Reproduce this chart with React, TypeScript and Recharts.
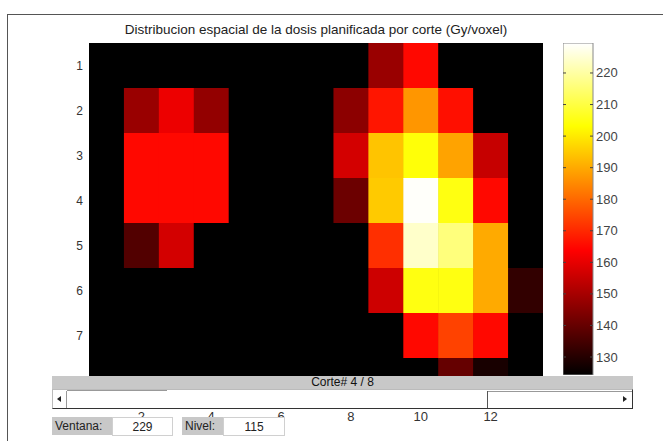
import { Bar, BarChart, CartesianGrid, Scatter, ScatterChart, XAxis, YAxis } from "recharts";

// slice 4 of 8, dose per voxel (Gy); 0 = outside the window
const columns = [1, 2, 3, 4, 5, 6, 7, 8, 9, 10, 11, 12, 13];
const rows = [1, 2, 3, 4, 5, 6, 7, 8];
const row1 = [0, 0, 0, 0, 0, 0, 0, 0, 148, 165, 0, 0, 0];
const row2 = [0, 148, 161, 147, 0, 0, 0, 146, 167, 187, 166, 0, 0];
const row3 = [0, 165, 165, 165, 0, 0, 0, 157, 194, 204, 189, 155, 0];
const row4 = [0, 165, 165, 165, 0, 0, 0, 141, 195, 229, 205, 165, 0];
const row5 = [0, 137, 157, 0, 0, 0, 0, 0, 171, 224, 216, 190, 0];
const row6 = [0, 0, 0, 0, 0, 0, 0, 0, 156, 205, 205, 190, 132];
const row7 = [0, 0, 0, 0, 0, 0, 0, 0, 0, 165, 174, 165, 0];
const row8 = [0, 0, 0, 0, 0, 0, 0, 0, 0, 0, 140, 128, 0];
const doseRows = [row1, row2, row3, row4, row5, row6, row7, row8];

const xTicks = [2, 4, 6, 8, 10, 12];
const yTicks = [1, 2, 3, 4, 5, 6, 7];
const colorbarTicks = [130, 140, 150, 160, 170, 180, 190, 200, 210, 220];
const doseMin = 124.3;
const doseMax = 229.5;

const cells = doseRows.flatMap((vals, r) =>
  vals.map((dose, c) => ({ x: columns[c], y: rows[r], dose }))
);
const colorbarData = [{ name: "dosis", range: [doseMin, doseMax] }];

const FONT = '"Liberation Sans", Arial, sans-serif';
const PLOT_W = 454;
const PLOT_H = 360;
const CELL_W = PLOT_W / columns.length;
const CELL_H = PLOT_H / rows.length;

const clamp = (v: number) => Math.max(0, Math.min(1, v));

// matlab "hot"
function hot(dose: number) {
  const t = clamp((dose - doseMin) / (doseMax - doseMin));
  const r = clamp(t / 0.375);
  const g = clamp((t - 0.375) / 0.375);
  const b = clamp((t - 0.75) / 0.25);
  return `rgb(${Math.round(r * 255)},${Math.round(g * 255)},${Math.round(b * 255)})`;
}

const HeatCell = (props: any) => {
  const { cx, cy, payload } = props;
  return (
    <rect
      x={cx - CELL_W / 2}
      y={cy - CELL_H / 2}
      width={CELL_W + 0.6}
      height={CELL_H + 0.6}
      fill={hot(payload.dose)}
    />
  );
};

const ColorbarTick = (props: any) => {
  const { x, y, payload } = props;
  return (
    <g>
      <line x1={x - 7} x2={x - 4} y1={y} y2={y} stroke="#444" />
      <line x1={x - 34} x2={x - 31} y1={y} y2={y} stroke="#444" />
      <text x={x - 1} y={y} dy={4.5} fontSize={13} fill="#444" fontFamily={FONT}>
        {payload.value}
      </text>
    </g>
  );
};

const grayLabel = {
  position: "absolute" as const,
  top: 417,
  height: 18,
  background: "#c8c8c8",
  fontSize: 12,
  lineHeight: "18px",
  paddingLeft: 3,
  color: "#222",
  boxSizing: "border-box" as const,
};
const editBox = {
  position: "absolute" as const,
  top: 417,
  height: 19,
  background: "#fff",
  border: "1px solid #d0d0d0",
  fontSize: 12,
  lineHeight: "19px",
  textAlign: "center" as const,
  color: "#222",
  boxSizing: "border-box" as const,
};

export default function App() {
  return (
    <div
      style={{
        position: "absolute",
        left: 0,
        top: 0,
        width: 663,
        height: 441,
        overflow: "hidden",
        background: "#fff",
        fontFamily: FONT,
      }}
    >
      <div
        style={{
          position: "absolute",
          left: 7,
          top: 14,
          width: 700,
          height: 500,
          border: "1px solid #555",
        }}
      />
      <div
        style={{
          position: "absolute",
          left: 40,
          top: 22,
          width: 552,
          textAlign: "center",
          fontSize: 13.5,
          color: "#222",
        }}
      >
        Distribucion espacial de la dosis planificada por corte (Gy/voxel)
      </div>

      <div style={{ position: "absolute", left: 0, top: 0 }}>
        <ScatterChart
          width={663}
          height={441}
          margin={{ top: 43, right: 120, left: 59, bottom: 8 }}
        >
          <CartesianGrid fill="#000" horizontal={false} vertical={false} />
          <XAxis
            type="number"
            dataKey="x"
            domain={[0.5, 13.5]}
            allowDataOverflow
            ticks={xTicks}
            height={30}
            tickLine={false}
            axisLine={false}
            tickSize={7}
            tickMargin={2}
            tick={{ fontSize: 13, fill: "#333", fontFamily: FONT }}
          />
          <YAxis
            type="number"
            dataKey="y"
            domain={[0.5, 8.5]}
            allowDataOverflow
            reversed
            ticks={yTicks}
            width={30}
            tickLine={false}
            axisLine={false}
            tickSize={0}
            tickMargin={6}
            tick={{ fontSize: 12, fill: "#333", fontFamily: FONT }}
          />
          <Scatter data={cells} shape={HeatCell} isAnimationActive={false} />
        </ScatterChart>
      </div>

      <div style={{ position: "absolute", left: 563, top: 43 }}>
        <BarChart
          width={70}
          height={332}
          data={colorbarData}
          margin={{ top: 0, right: 0, left: 0, bottom: 0 }}
          barCategoryGap={0}
        >
          <defs>
            <linearGradient id="hotGrad" x1="0" y1="0" x2="0" y2="1">
              <stop offset="0" stopColor="#ffffff" />
              <stop offset="0.25" stopColor="#ffff00" />
              <stop offset="0.625" stopColor="#ff0000" />
              <stop offset="1" stopColor="#000000" />
            </linearGradient>
          </defs>
          <XAxis dataKey="name" hide />
          <YAxis
            orientation="right"
            domain={[doseMin, doseMax]}
            allowDataOverflow
            ticks={colorbarTicks}
            width={40}
            axisLine={false}
            tickLine={false}
            tickSize={0}
            tickMargin={4}
            tick={<ColorbarTick />}
          />
          <Bar
            dataKey="range"
            fill="url(#hotGrad)"
            stroke="#888"
            strokeWidth={1}
            isAnimationActive={false}
          />
        </BarChart>
      </div>

      {/* slice slider panel */}
      <div
        style={{
          position: "absolute",
          left: 52,
          top: 376,
          width: 581,
          height: 13,
          background: "#c8c8c8",
          fontSize: 12,
          lineHeight: "13px",
          textAlign: "center",
          color: "#111",
        }}
      >
        Corte# 4 / 8
      </div>
      <div
        style={{
          position: "absolute",
          left: 52,
          top: 389,
          width: 581,
          height: 20,
          background: "#fff",
          borderTop: "1px solid #bbb",
          borderLeft: "1px solid #bbb",
          borderBottom: "1px solid #333",
          borderRight: "1px solid #333",
          boxSizing: "border-box",
        }}
      >
        <div style={{ position: "absolute", left: 13, top: 1, width: 1, height: 17, background: "#999" }} />
        <div style={{ position: "absolute", left: 14, top: 0, width: 100, height: 1, background: "#999" }} />
        <div
          style={{
            position: "absolute",
            left: 4,
            top: 6,
            width: 0,
            height: 0,
            borderTop: "3px solid transparent",
            borderBottom: "3px solid transparent",
            borderRight: "4px solid #222",
          }}
        />
        <div style={{ position: "absolute", left: 434, top: 1, width: 1, height: 17, background: "#555" }} />
        <div style={{ position: "absolute", left: 435, top: 1, width: 144, height: 1, background: "#999" }} />
        <div
          style={{
            position: "absolute",
            left: 570,
            top: 6,
            width: 0,
            height: 0,
            borderTop: "3px solid transparent",
            borderBottom: "3px solid transparent",
            borderLeft: "4px solid #222",
          }}
        />
      </div>

      <div style={{ ...grayLabel, left: 52, width: 60 }}>Ventana:</div>
      <div style={{ ...editBox, left: 112, width: 61 }}>229</div>
      <div style={{ ...grayLabel, left: 182, width: 41 }}>Nivel:</div>
      <div style={{ ...editBox, left: 223, width: 62 }}>115</div>
    </div>
  );
}
